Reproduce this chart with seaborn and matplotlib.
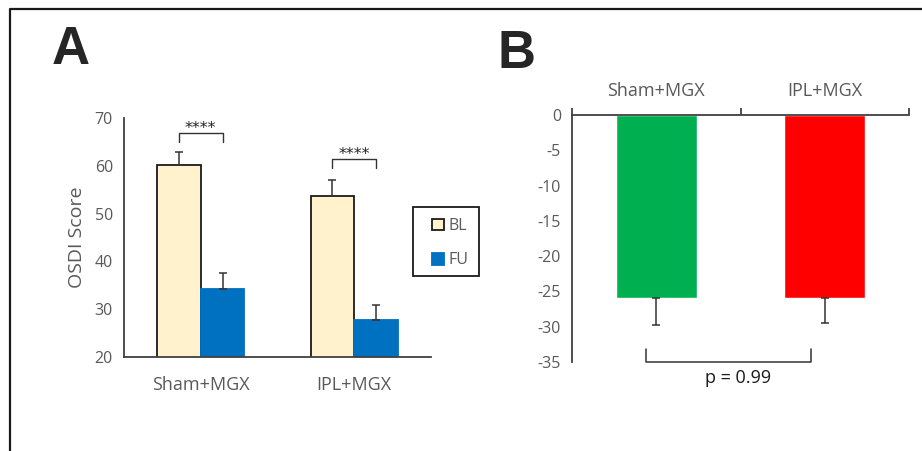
import matplotlib
matplotlib.use("Agg")
import matplotlib.pyplot as plt
from matplotlib.patches import Patch, Rectangle
from matplotlib.lines import Line2D
import seaborn as sns
import pandas as pd
import numpy as np

# ---- data ----
groups = ["Sham+MGX", "IPL+MGX"]
times = ["BL", "FU"]
bl_mean = [60.2, 53.7]
bl_err = [2.7, 3.3]
fu_mean = [34.2, 27.7]
fu_err = [3.4, 3.2]
a_yticks = [20, 30, 40, 50, 60, 70]
sig_labels = ["****", "****"]

b_change = [-25.9, -25.9]
b_err = [3.8, 3.6]
b_yticks = [0, -5, -10, -15, -20, -25, -30, -35]
p_label = "p = 0.99"

# ---- style ----
sns.set_style("white")
plt.rcParams["font.family"] = ["Open Sans", "DejaVu Sans"]
plt.rcParams["axes.unicode_minus"] = False

TXT = "#595959"
AX = "#404040"
c_bl = "#FFF2CC"
c_fu = "#0070C0"
c_green = "#00B050"
c_red = "#FF0000"

W, H = 922, 451
fig = plt.figure(figsize=(W / 100, H / 100), dpi=100)


def fx(px):
    return px / W


def fy(py):
    return (H - py) / H


# frame
fig.add_artist(Line2D([fx(10), fx(10), 1.0], [0.0, fy(9), fy(9)],
                      transform=fig.transFigure, color="#1a1a1a", lw=1.6))

# ===== Panel A =====
axA = fig.add_axes([fx(124), fy(357), fx(431) - fx(124), fy(118) - fy(357)])
dfA = pd.DataFrame({
    "group": groups * 2,
    "time": [times[0]] * 2 + [times[1]] * 2,
    "score": bl_mean + fu_mean,
})
sns.barplot(data=dfA, x="group", y="score", hue="time", order=groups,
            hue_order=times, palette=[c_bl, c_fu], width=0.567,
            errorbar=None, ax=axA, legend=False, saturation=1)
errsA = [bl_err, fu_err]
edgesA = ["#1a1a1a", c_fu]
centers = []
for cont, errs, ec in zip(axA.containers, errsA, edgesA):
    xs, ys = [], []
    for bar in cont:
        bar.set_edgecolor(ec)
        bar.set_linewidth(1.3)
        xs.append(bar.get_x() + bar.get_width() / 2)
        ys.append(bar.get_y() + bar.get_height())
    centers.append(xs)
    axA.errorbar(xs, ys, yerr=[np.zeros(len(errs)), errs], fmt="none",
                 ecolor="#333333", elinewidth=1.1, capsize=3, capthick=1.1,
                 zorder=3)

axA.set_ylim(20, 70)
axA.set_xlim(-0.5, 1.5)
axA.set_yticks(a_yticks)
axA.set_xticks([0, 1])
axA.set_xticklabels(groups)
axA.set_xticks([-0.5, 0.5, 1.5], minor=True)
axA.tick_params(axis="x", which="major", length=0, labelsize=13,
                labelcolor=TXT, pad=14)
axA.tick_params(axis="x", which="minor", length=5, width=1.3, color=AX,
                direction="out")
axA.tick_params(axis="y", length=5, width=1.3, color=AX, direction="out",
                labelsize=11.5, labelcolor=TXT, pad=3)
axA.set_xlabel("")
axA.set_ylabel("OSDI Score", fontsize=14, color=TXT, labelpad=6)
for s in ["top", "right"]:
    axA.spines[s].set_visible(False)
for s in ["left", "bottom"]:
    axA.spines[s].set_color(AX)
    axA.spines[s].set_linewidth(1.3)

# significance brackets
br_top = [66.9, 61.4]
br_drop = 1.9
for i, lab in enumerate(sig_labels):
    x0, x1 = centers[0][i], centers[1][i]
    t = br_top[i]
    axA.plot([x0, x0, x1, x1], [t - br_drop, t, t, t - br_drop],
             color="#333333", lw=1.0, clip_on=False)
    axA.text((x0 + x1) / 2, t + 1.0, lab, ha="center", va="center",
             fontsize=11.5, color="#222222", family=["DejaVu Sans"])

# legend (items without frame, box drawn separately)
handles = [Patch(facecolor=c_bl, edgecolor="#1a1a1a", lw=1.3),
           Patch(facecolor=c_fu, edgecolor=c_fu, lw=1.3)]
leg = axA.legend(handles, times, loc="upper left",
                 bbox_to_anchor=(fx(432), fy(218)),
                 bbox_transform=fig.transFigure, frameon=False,
                 fontsize=11.5, handlelength=0.75, handleheight=0.75,
                 handletextpad=0.3, labelspacing=1.15, borderpad=0,
                 borderaxespad=0)
for t in leg.get_texts():
    t.set_color(TXT)
fig.add_artist(Rectangle((fx(413), fy(276)), fx(479) - fx(413),
                         fy(207) - fy(276), transform=fig.transFigure,
                         facecolor="none", edgecolor="#1a1a1a", lw=1.3))

# ===== Panel B =====
axB = fig.add_axes([fx(572), fy(362), fx(909) - fx(572), fy(115) - fy(362)])
dfB = pd.DataFrame({"group": groups, "change": b_change})
sns.barplot(data=dfB, x="group", y="change", hue="group", order=groups,
            hue_order=groups, palette=[c_green, c_red], width=0.48,
            errorbar=None, ax=axB, legend=False, saturation=1)
bxs, bys = [], []
for bar in axB.patches:
    bxs.append(bar.get_x() + bar.get_width() / 2)
    bys.append(bar.get_y() + bar.get_height())
axB.errorbar(bxs, bys, yerr=[b_err, np.zeros(len(b_err))], fmt="none",
             ecolor="#333333", elinewidth=1.1, capsize=3, capthick=1.1,
             zorder=3)
axB.set_ylim(-35, 0)
axB.set_xlim(-0.5, 1.5)
axB.set_yticks(b_yticks)
axB.xaxis.tick_top()
axB.set_xticks([0, 1])
axB.set_xticklabels(groups)
axB.set_xticks([-0.5, 0.5, 1.5], minor=True)
axB.tick_params(axis="x", which="major", length=0, labelsize=13,
                labelcolor=TXT, pad=11, top=True, bottom=False,
                labeltop=True, labelbottom=False)
axB.tick_params(axis="x", which="minor", length=5, width=1.3, color=AX,
                direction="out", top=True, bottom=False)
axB.tick_params(axis="y", length=5, width=1.3, color=AX, direction="out",
                labelsize=11.5, labelcolor=TXT, pad=3)
axB.set_xlabel("")
axB.set_ylabel("")
for s in ["bottom", "right"]:
    axB.spines[s].set_visible(False)
for s in ["left", "top"]:
    axB.spines[s].set_color(AX)
    axB.spines[s].set_linewidth(1.3)

# p-value bracket
bx0, bx1 = -0.062, 0.917
axB.plot([bx0, bx0, bx1, bx1], [-33.2, -35, -35, -33.2], color="#333333",
         lw=1.1, clip_on=False)
axB.text(0.484, -37.2, p_label, ha="center", va="center", fontsize=13,
         color="#1a1a1a", clip_on=False)

# panel letters
fig.text(fx(52), fy(50), "A", fontsize=38, fontweight="bold",
         family=["Liberation Sans", "DejaVu Sans"], va="center", ha="left")
fig.text(fx(497), fy(54), "B", fontsize=38, fontweight="bold",
         family=["Liberation Sans", "DejaVu Sans"], va="center", ha="left")

fig.savefig("out.png", dpi=100, facecolor="white")
